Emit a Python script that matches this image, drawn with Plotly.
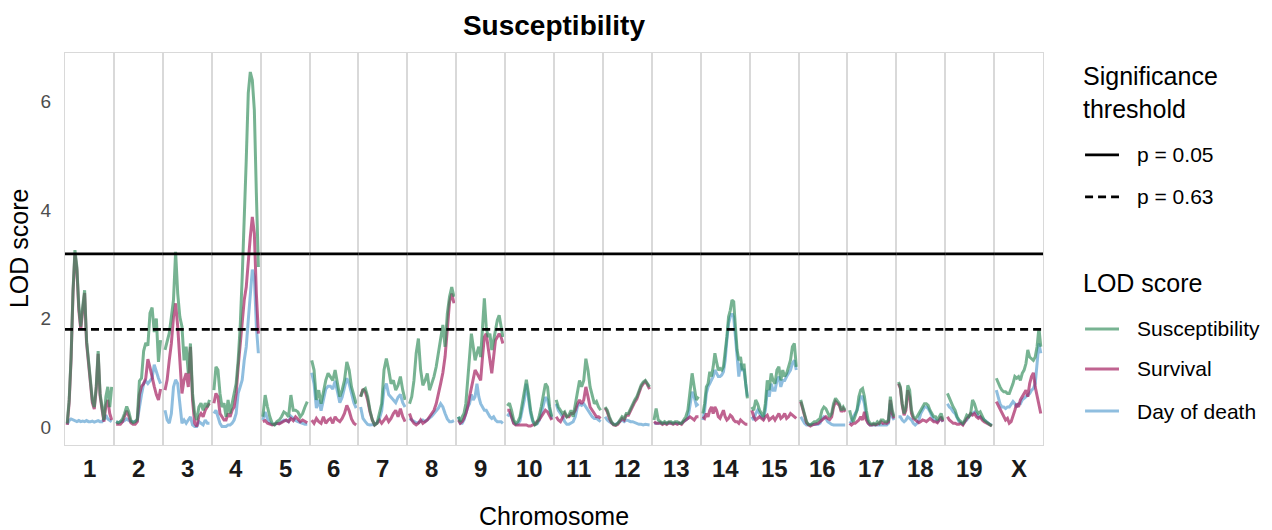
import plotly.graph_objects as go
from plotly.subplots import make_subplots

chromosomes = ["1", "2", "3", "4", "5", "6", "7", "8", "9", "10",
               "11", "12", "13", "14", "15", "16", "17", "18", "19", "X"]
threshold_labels = ["p = 0.05", "p = 0.63"]
threshold_values = [3.19, 1.80]
series_names = ["Susceptibility", "Survival", "Day of death"]

susceptibility = [
    [0.07, 0.5, 1.29, 2.52, 3.26, 2.95, 2.22, 1.85, 2.22, 2.52, 1.6, 1.23, 0.87, 0.5, 0.37, 0.74, 1.4, 0.62, 0.37, 0.13, 0.56, 0.74, 0.37, 0.74],
    [0.1, 0.08, 0.1, 0.15, 0.25, 0.38, 0.28, 0.12, 0.08, 0.1, 0.15, 0.85, 0.9, 1.4, 1.55, 1.5, 2.1, 2.2, 1.75, 2.0, 1.2, 1.6],
    [1.42, 1.6, 1.73, 2.03, 2.34, 3.23, 2.46, 2.03, 1.85, 1.23, 1.48, 0.99, 1.54, 0.62, 0.25, 0.13, 0.37, 0.44, 0.31, 0.44, 0.37, 0.5],
    [0.68, 1.11, 1.05, 0.62, 0.37, 0.44, 0.19, 0.5, 0.25, 0.44, 0.56, 0.8, 1.23, 1.85, 2.77, 3.69, 4.92, 6.15, 6.54, 6.39, 5.84, 4.3, 2.95],
    [0.19, 0.59, 0.37, 0.19, 0.07, 0.04, 0.1, 0.13, 0.19, 0.28, 0.25, 0.19, 0.59, 0.31, 0.31, 0.28, 0.19, 0.25, 0.37, 0.47],
    [1.23, 1.05, 0.5, 0.68, 0.43, 0.68, 0.86, 0.99, 0.93, 0.86, 1.05, 0.8, 0.56, 0.68, 0.86, 1.2, 1.05, 0.74, 0.56, 0.43],
    [0.56, 0.68, 0.71, 0.56, 0.31, 0.13, 0.04, 0.07, 0.25, 0.43, 1.05, 1.26, 1.05, 0.8, 0.86, 0.68, 0.77, 0.93, 0.68, 0.5],
    [0.43, 0.56, 0.86, 1.36, 1.63, 1.05, 0.77, 0.86, 0.99, 0.68, 0.8, 0.93, 1.11, 1.36, 1.66, 1.88, 1.48, 2.09, 2.4, 2.58, 2.4],
    [0.19, 0.1, 0.19, 0.25, 0.43, 0.86, 1.42, 1.72, 1.48, 1.23, 1.36, 1.48, 1.29, 1.79, 2.37, 1.85, 1.66, 1.72, 1.42, 1.6, 1.79, 1.97, 2.06, 1.85, 1.66],
    [0.39, 0.44, 0.31, 0.13, 0.07, 0.1, 0.19, 0.44, 0.68, 0.87, 0.62, 0.31, 0.13, 0.04, 0.07, 0.19, 0.37, 0.56, 0.8, 0.74, 0.37, 0.19],
    [0.5, 0.37, 0.31, 0.25, 0.28, 0.19, 0.22, 0.31, 0.19, 0.43, 0.68, 0.86, 0.74, 0.86, 1.26, 1.05, 0.74, 0.56, 0.43, 0.47, 0.37, 0.31],
    [0.37, 0.31, 0.19, 0.1, 0.05, 0.04, 0.07, 0.13, 0.19, 0.16, 0.25, 0.25, 0.34, 0.43, 0.5, 0.56, 0.68, 0.77, 0.83, 0.86, 0.8, 0.74],
    [0.13, 0.34, 0.13, 0.1, 0.07, 0.1, 0.07, 0.1, 0.1, 0.07, 0.1, 0.1, 0.07, 0.07, 0.13, 0.19, 0.31, 0.68, 0.99, 0.74, 0.5, 0.56],
    [0.25, 0.43, 0.74, 0.8, 1.02, 0.93, 1.11, 1.36, 1.2, 1.05, 1.08, 1.05, 1.11, 1.36, 1.66, 2.03, 2.15, 2.34, 2.31, 1.85, 1.42, 1.23, 1.29, 1.05, 1.17, 0.8, 0.53],
    [0.37, 0.31, 0.5, 0.43, 0.31, 0.25, 0.19, 0.43, 0.86, 0.68, 0.99, 0.86, 0.8, 1.05, 1.11, 0.86, 1.05, 0.93, 0.99, 1.11, 1.23, 1.48, 1.54, 1.11],
    [0.5, 0.37, 0.19, 0.1, 0.05, 0.04, 0.07, 0.1, 0.1, 0.13, 0.16, 0.31, 0.37, 0.34, 0.25, 0.19, 0.25, 0.43, 0.53, 0.47, 0.43, 0.31, 0.37, 0.31],
    [0.31, 0.16, 0.1, 0.19, 0.31, 0.56, 0.68, 0.71, 0.56, 0.31, 0.13, 0.07, 0.05, 0.07, 0.05, 0.1, 0.07, 0.13, 0.13, 0.1, 0.1, 0.13, 0.56, 0.31, 0.19],
    [0.83, 0.74, 0.43, 0.25, 0.37, 0.77, 0.68, 0.31, 0.19, 0.16, 0.19, 0.25, 0.31, 0.37, 0.43, 0.43, 0.4, 0.31, 0.25, 0.19, 0.19, 0.13, 0.19, 0.25, 0.13],
    [0.62, 0.53, 0.47, 0.37, 0.31, 0.19, 0.13, 0.1, 0.07, 0.13, 0.22, 0.19, 0.25, 0.5, 0.43, 0.31, 0.25, 0.28, 0.19, 0.13, 0.1, 0.07, 0.04, 0.02],
    [0.9, 0.8, 0.74, 0.68, 0.65, 0.65, 0.62, 0.62, 0.71, 0.8, 0.93, 0.9, 0.93, 0.86, 0.99, 1.05, 1.17, 1.42, 1.29, 1.26, 1.23, 1.29, 1.48, 1.82, 1.48],
]

survival = [
    [0.04, 0.45, 1.25, 2.47, 3.2, 2.9, 2.15, 1.8, 2.15, 2.47, 1.55, 1.18, 0.82, 0.45, 0.33, 0.7, 1.35, 0.58, 0.33, 0.1, 0.4, 0.5, 0.25, 0.13],
    [0.05, 0.05, 0.05, 0.1, 0.2, 0.3, 0.2, 0.08, 0.05, 0.05, 0.1, 0.6, 0.75, 0.8, 0.9, 1.25, 1.1, 0.9, 0.75, 0.6, 0.5, 0.7],
    [0.68, 0.87, 1.23, 1.54, 2.03, 2.28, 1.85, 1.23, 0.62, 0.87, 0.99, 0.74, 1.48, 0.5, 0.07, 0.01, 0.19, 0.25, 0.19, 0.31, 0.37, 0.44],
    [0.44, 0.62, 0.56, 0.25, 0.19, 0.13, 0.13, 0.25, 0.19, 0.31, 0.37, 0.62, 1.11, 1.54, 1.85, 2.34, 2.58, 3.07, 3.5, 3.87, 3.57, 2.46, 1.72],
    [0.1, 0.12, 0.07, 0.05, 0.04, 0.05, 0.07, 0.06, 0.08, 0.1, 0.13, 0.1, 0.16, 0.12, 0.19, 0.15, 0.1, 0.13, 0.1, 0.08],
    [0.13, 0.07, 0.16, 0.1, 0.07, 0.19, 0.07, 0.13, 0.16, 0.07, 0.19, 0.13, 0.1, 0.16, 0.25, 0.4, 0.3, 0.15, 0.07, 0.04],
    [0.56, 0.7, 0.65, 0.5, 0.28, 0.13, 0.04, 0.07, 0.13, 0.07, 0.13, 0.19, 0.1, 0.16, 0.25, 0.31, 0.19, 0.34, 0.19, 0.1],
    [0.25, 0.13, 0.07, 0.04, 0.07, 0.13, 0.07, 0.1, 0.13, 0.19, 0.25, 0.31, 0.43, 0.6, 0.8, 1.0, 1.3, 1.8, 2.3, 2.46, 2.28],
    [0.13, 0.07, 0.1, 0.16, 0.25, 0.37, 0.56, 0.74, 0.86, 1.05, 0.99, 0.93, 0.86, 1.29, 1.66, 1.72, 1.48, 1.29, 0.99, 1.29, 1.6, 1.66, 1.72, 1.66, 1.54],
    [0.31, 0.31, 0.19, 0.07, 0.04, 0.04, 0.04, 0.04, 0.04, 0.04, 0.02, 0.02, 0.04, 0.05, 0.1, 0.13, 0.19, 0.25, 0.31, 0.28, 0.19, 0.13],
    [0.19, 0.13, 0.1, 0.19, 0.25, 0.19, 0.19, 0.25, 0.25, 0.31, 0.43, 0.5, 0.43, 0.5, 0.74, 0.56, 0.37, 0.31, 0.25, 0.19, 0.19, 0.16],
    [0.35, 0.28, 0.16, 0.08, 0.04, 0.03, 0.05, 0.1, 0.16, 0.13, 0.22, 0.22, 0.3, 0.4, 0.46, 0.52, 0.64, 0.74, 0.8, 0.84, 0.78, 0.7],
    [0.1, 0.07, 0.07, 0.08, 0.05, 0.07, 0.05, 0.08, 0.07, 0.05, 0.07, 0.05, 0.07, 0.05, 0.1, 0.13, 0.16, 0.19, 0.16, 0.13, 0.19, 0.19],
    [0.19, 0.16, 0.25, 0.19, 0.31, 0.37, 0.25, 0.37, 0.31, 0.19, 0.16, 0.25, 0.31, 0.19, 0.13, 0.16, 0.22, 0.19, 0.13, 0.1, 0.1, 0.07, 0.13, 0.1, 0.07, 0.05, 0.05],
    [0.31, 0.19, 0.13, 0.16, 0.19, 0.16, 0.13, 0.19, 0.22, 0.13, 0.16, 0.19, 0.13, 0.19, 0.25, 0.16, 0.19, 0.25, 0.16, 0.19, 0.25, 0.22, 0.19, 0.16],
    [0.47, 0.34, 0.16, 0.08, 0.04, 0.02, 0.04, 0.05, 0.05, 0.07, 0.1, 0.13, 0.16, 0.19, 0.16, 0.14, 0.19, 0.37, 0.47, 0.43, 0.4, 0.28, 0.34, 0.28],
    [0.07, 0.04, 0.07, 0.07, 0.1, 0.13, 0.19, 0.13, 0.28, 0.13, 0.07, 0.04, 0.04, 0.05, 0.04, 0.05, 0.07, 0.1, 0.07, 0.08, 0.07, 0.1, 0.5, 0.25, 0.16],
    [0.8, 0.71, 0.4, 0.22, 0.31, 0.68, 0.56, 0.25, 0.16, 0.13, 0.1, 0.08, 0.1, 0.13, 0.12, 0.1, 0.13, 0.16, 0.13, 0.1, 0.1, 0.08, 0.13, 0.19, 0.1],
    [0.19, 0.13, 0.1, 0.07, 0.07, 0.05, 0.05, 0.07, 0.04, 0.1, 0.16, 0.19, 0.25, 0.22, 0.25, 0.19, 0.16, 0.19, 0.13, 0.1, 0.08, 0.07, 0.04, 0.02],
    [0.47, 0.4, 0.31, 0.25, 0.19, 0.13, 0.16, 0.07, 0.1, 0.19, 0.31, 0.43, 0.37, 0.5, 0.56, 0.62, 0.68, 0.56, 0.8, 0.93, 1.0, 0.74, 0.56, 0.43, 0.25],
]

day_of_death = [
    [0.05, 0.12, 0.15, 0.13, 0.12, 0.1, 0.12, 0.1, 0.11, 0.1, 0.12, 0.1, 0.1, 0.11, 0.09, 0.1, 0.12, 0.1, 0.1, 0.15, 0.22, 0.15, 0.12, 0.1],
    [0.1, 0.08, 0.1, 0.1, 0.12, 0.15, 0.12, 0.1, 0.1, 0.1, 0.12, 0.4, 0.6, 0.8, 0.85, 0.8, 0.85, 0.9, 1.15, 1.0, 0.9, 0.8],
    [0.31, 0.13, 0.07, 0.25, 0.74, 0.87, 0.8, 0.37, 0.07, 0.13, 0.07, 0.13, 0.19, 0.04, 0.01, 0.01, 0.1, 0.07, 0.04, 0.13, 0.07, 0.07],
    [0.25, 0.31, 0.19, 0.07, 0.01, 0.01, 0.01, 0.04, 0.04, 0.07, 0.13, 0.25, 0.62, 0.74, 0.87, 1.23, 1.48, 1.97, 2.46, 2.9, 2.77, 1.85, 1.36],
    [0.13, 0.28, 0.15, 0.08, 0.05, 0.05, 0.07, 0.07, 0.1, 0.13, 0.12, 0.1, 0.2, 0.15, 0.12, 0.1, 0.08, 0.07, 0.05, 0.05],
    [1.0, 0.8, 0.35, 0.5, 0.3, 0.5, 0.7, 0.75, 0.75, 0.7, 0.85, 0.65, 0.45, 0.55, 0.75, 0.9, 0.8, 0.6, 0.45, 0.35],
    [0.37, 0.16, 0.1, 0.05, 0.04, 0.04, 0.05, 0.08, 0.15, 0.3, 0.7, 0.8, 0.6, 0.55, 0.5, 0.45, 0.55, 0.6, 0.45, 0.37],
    [0.16, 0.13, 0.1, 0.08, 0.08, 0.1, 0.13, 0.1, 0.13, 0.16, 0.2, 0.25, 0.3, 0.35, 0.43, 0.37, 0.25, 0.15, 0.1, 0.1, 0.12],
    [0.19, 0.07, 0.07, 0.13, 0.25, 0.37, 0.43, 0.6, 0.5, 0.56, 0.8, 0.56, 0.43, 0.37, 0.31, 0.31, 0.25, 0.19, 0.16, 0.19, 0.13, 0.1, 0.1, 0.1, 0.07],
    [0.2, 0.25, 0.18, 0.08, 0.05, 0.06, 0.12, 0.3, 0.5, 0.8, 0.55, 0.25, 0.1, 0.05, 0.06, 0.12, 0.25, 0.4, 0.55, 0.5, 0.3, 0.15],
    [0.43, 0.31, 0.25, 0.19, 0.1, 0.05, 0.05, 0.07, 0.1, 0.19, 0.37, 0.43, 0.4, 0.43, 0.37, 0.31, 0.25, 0.19, 0.16, 0.16, 0.13, 0.1],
    [0.19, 0.13, 0.1, 0.07, 0.05, 0.05, 0.08, 0.1, 0.13, 0.1, 0.13, 0.12, 0.1, 0.1, 0.08, 0.07, 0.05, 0.05, 0.04, 0.05, 0.05, 0.04],
    [0.07, 0.07, 0.07, 0.07, 0.07, 0.07, 0.07, 0.07, 0.07, 0.07, 0.07, 0.07, 0.07, 0.07, 0.1, 0.13, 0.16, 0.4, 0.65, 0.55, 0.4, 0.43],
    [0.13, 0.31, 0.62, 0.74, 0.8, 0.86, 0.93, 1.05, 0.99, 0.93, 0.93, 0.96, 1.02, 1.23, 1.6, 1.91, 2.03, 2.09, 2.03, 1.66, 1.36, 0.93, 1.17, 1.05, 1.05, 0.8, 0.56],
    [0.19, 0.13, 0.25, 0.31, 0.25, 0.19, 0.16, 0.31, 0.68, 0.56, 0.8, 0.68, 0.68, 0.86, 0.93, 0.74, 0.86, 0.86, 0.93, 0.99, 1.05, 1.17, 1.23, 1.05],
    [0.19, 0.13, 0.07, 0.04, 0.04, 0.04, 0.04, 0.05, 0.05, 0.05, 0.07, 0.15, 0.19, 0.16, 0.1, 0.07, 0.05, 0.04, 0.04, 0.04, 0.04, 0.04, 0.04, 0.04],
    [0.07, 0.1, 0.19, 0.25, 0.31, 0.43, 0.56, 0.56, 0.43, 0.19, 0.07, 0.04, 0.04, 0.04, 0.04, 0.04, 0.04, 0.04, 0.04, 0.04, 0.04, 0.07, 0.43, 0.19, 0.13],
    [0.19, 0.19, 0.13, 0.1, 0.13, 0.19, 0.16, 0.13, 0.07, 0.04, 0.07, 0.13, 0.25, 0.31, 0.37, 0.37, 0.34, 0.28, 0.19, 0.13, 0.13, 0.1, 0.13, 0.16, 0.1],
    [0.43, 0.37, 0.34, 0.28, 0.25, 0.16, 0.1, 0.07, 0.05, 0.1, 0.13, 0.19, 0.22, 0.25, 0.28, 0.25, 0.19, 0.19, 0.16, 0.13, 0.1, 0.07, 0.05, 0.04],
    [0.68, 0.56, 0.43, 0.37, 0.37, 0.34, 0.37, 0.37, 0.43, 0.47, 0.43, 0.37, 0.43, 0.43, 0.5, 0.53, 0.56, 0.59, 0.62, 0.68, 0.71, 0.8, 1.17, 1.54, 1.36],
]

# ---- styles ----
FONT = "Liberation Sans, Arial, sans-serif"
series_colors = {
    "Susceptibility": "rgba(46,139,87,0.65)",
    "Survival": "rgba(162,25,91,0.68)",
    "Day of death": "rgba(100,165,210,0.72)",
}
threshold_dashes = ["solid", "8px,5px"]
border_color = "#d9d9d9"
line_w = 3.0
thr_w = 2.8

n_chr = len(chromosomes)
fig = make_subplots(rows=1, cols=n_chr, shared_yaxes=True, horizontal_spacing=0)

draw_order = [("Day of death", day_of_death), ("Survival", survival), ("Susceptibility", susceptibility)]

for i, chrom in enumerate(chromosomes):
    col = i + 1
    axis_id = "" if col == 1 else str(col)
    for name, data in draw_order:
        vals = data[i]
        n = len(vals)
        xs = [j / (n - 1) for j in range(n)]
        fig.add_trace(go.Scatter(x=xs, y=vals, mode="lines", name=name, showlegend=False,
                                 line=dict(color=series_colors[name], width=line_w),
                                 hoverinfo="skip"), row=1, col=col)
    for tval, tdash in zip(threshold_values, threshold_dashes):
        fig.add_shape(type="line", xref=f"x{axis_id} domain", yref=f"y{axis_id}",
                      x0=0, x1=1, y0=tval, y1=tval, layer="above",
                      line=dict(color="black", width=thr_w, dash=tdash))
    fig.add_annotation(text=chrom, xref=f"x{axis_id} domain", yref="paper",
                       x=0.5, y=-0.059, xanchor="center", yanchor="middle", showarrow=False,
                       font=dict(family=FONT, size=24, color="#1a1a1a", weight="bold"))

fig.update_xaxes(range=[-0.05, 1.05], showticklabels=False, ticks="", showgrid=False,
                 zeroline=False, showline=True, mirror=True, linecolor=border_color, linewidth=1.2)
fig.update_yaxes(range=[-0.33, 6.89], tickvals=[0, 2, 4, 6], ticks="", showgrid=False,
                 zeroline=False, showline=True, mirror=True, linecolor=border_color, linewidth=1.2,
                 tickfont=dict(family=FONT, size=19, color="#4d4d4d"))
fig.update_yaxes(ticklabelstandoff=9, row=1, col=1)

# axis titles
fig.add_annotation(text="Chromosome", xref="paper", yref="paper", x=0.5, y=-0.18,
                   xanchor="center", yanchor="middle", showarrow=False,
                   font=dict(family=FONT, size=25, color="black"))
fig.add_annotation(text="LOD score", xref="paper", yref="paper", x=-0.047, y=0.5,
                   textangle=-90, xanchor="center", yanchor="middle", showarrow=False,
                   font=dict(family=FONT, size=25, color="black"))

# ---- manual legend (ggplot-style) ----
lx0, lx1, ltx, ltitle = 1.043, 1.0777, 1.0961, 1.0389
fig.add_annotation(text="Significance<br>threshold", xref="paper", yref="paper",
                   x=ltitle, y=0.899, xanchor="left", yanchor="middle", align="left",
                   showarrow=False, font=dict(family=FONT, size=25, color="black"))
thr_key_y = [0.740, 0.633]
for lab, tdash, ky in zip(threshold_labels, threshold_dashes, thr_key_y):
    fig.add_shape(type="line", xref="paper", yref="paper", x0=lx0, x1=lx1, y0=ky, y1=ky,
                  line=dict(color="black", width=thr_w, dash=tdash))
    fig.add_annotation(text=lab, xref="paper", yref="paper", x=ltx - 0.002, y=ky, xanchor="left",
                       yanchor="middle", showarrow=False,
                       font=dict(family=FONT, size=21, color="black"))
fig.add_annotation(text="LOD score", xref="paper", yref="paper", x=ltitle, y=0.413,
                   xanchor="left", yanchor="middle", showarrow=False,
                   font=dict(family=FONT, size=25, color="black"))
ser_key_y = [0.296, 0.194, 0.0867]
for name, ky in zip(series_names, ser_key_y):
    fig.add_shape(type="line", xref="paper", yref="paper", x0=lx0, x1=lx1, y0=ky, y1=ky,
                  line=dict(color=series_colors[name], width=line_w))
    fig.add_annotation(text=name, xref="paper", yref="paper", x=ltx - 0.002, y=ky, xanchor="left",
                       yanchor="middle", showarrow=False,
                       font=dict(family=FONT, size=21, color="black"))

fig.update_layout(
    width=1272, height=530,
    margin=dict(l=65, r=229, t=53, b=85),
    paper_bgcolor="white", plot_bgcolor="rgba(0,0,0,0)",
    showlegend=False,
    title=dict(text="Susceptibility", x=0.4355, xanchor="center", y=0.952, yanchor="middle",
               font=dict(family=FONT, size=28, color="black", weight="bold")),
)

fig.write_html("out.html", config={"displayModeBar": False},
               post_script="document.body.style.margin='0px';document.body.style.padding='0px';")
